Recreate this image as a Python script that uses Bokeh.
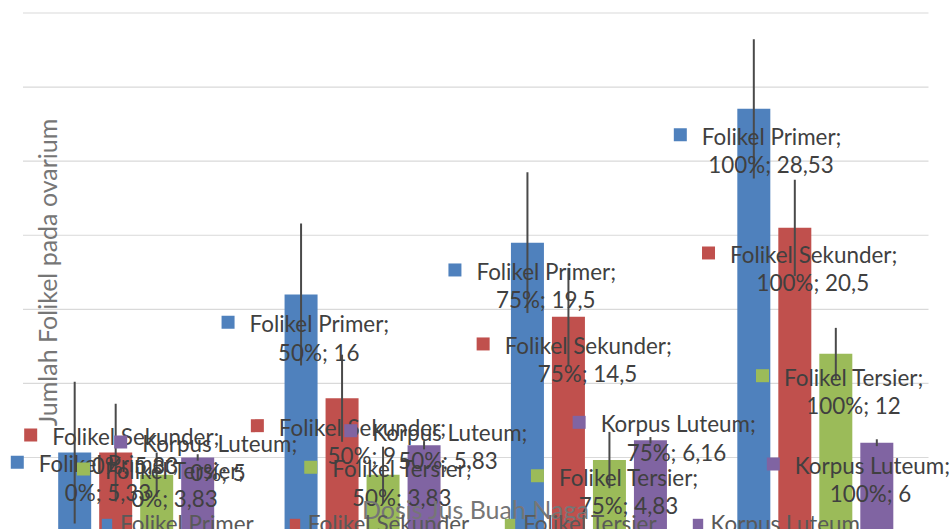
import math
from bokeh.plotting import figure
from bokeh.models import Range1d, ColumnDataSource, Legend, LegendItem, Grid
from bokeh.embed import file_html
from bokeh.resources import INLINE
from bokeh.core.properties import value

# ---------------- data ----------------
categories = ["0%", "50%", "75%", "100%"]
series_names = ["Folikel Primer", "Folikel Sekunder", "Folikel Tersier", "Korpus Luteum"]
folikel_primer = [5.33, 16, 19.5, 28.53]
folikel_sekunder = [5.33, 9, 14.5, 20.5]
folikel_tersier = [3.83, 3.83, 4.83, 12]
korpus_luteum = [5, 5.83, 6.16, 6]
sd_primer = [4.78, 4.79, 4.75, 4.7]
sd_sekunder = [3.3, 2.94, 3.3, 3.25]
sd_tersier = [1.5, 1.9, 1.9, 1.75]
sd_luteum = [0.22, 0.28, 0.22, 0.23]
y_ticks = [5, 10, 15, 20, 25, 30, 35]
x_title = "Dosis Jus Buah Naga"
y_title = "Jumlah Folikel pada ovarium"

# ---------------- style ----------------
colors = ["#4F81BD", "#C0504D", "#9BBB59", "#8064A2"]
FONT = "Lato"
LABEL_SIZE = "22.4px"
TITLE_SIZE = "25px"
# data-label placement (pixel offsets of first text line from bar centre / bar top)
lab_dx = [[-35.9, -51.5, -51.0, -52.0],
          [-63.5, -63.2, -63.8, -64.8],
          [-51.7, -50.8, -50.5, -51.8],
          [-55.5, -51.8, -49.8, -82.0]]
lab_dy = [[11.2, 29.3, 28.8, 27.3],
          [-16.1, 28.9, 28.7, 26.6],
          [-4.4, -6.1, 17.2, 23.4],
          [-14.0, -13.0, -16.5, 22.8]]
line1_w = [138.5, 165.7, 139.0, 151.6]
LINE_GAP = 28.5

W, H = 950, 529
ORIGIN = 0.0
AREA_L, AREA_R = 22.5, 928.0
AREA_TOP, AREA_ZERO = 12.5, 531.1
Y_MAX = 35
px_x = (AREA_R - AREA_L) / len(categories)
px_y = (AREA_ZERO - AREA_TOP) / Y_MAX
x_start = -(AREA_L - ORIGIN) / px_x
x_end = x_start + W / px_x
y_start = (AREA_ZERO - (ORIGIN + H)) / px_y
y_end = (AREA_ZERO - ORIGIN) / px_y


def sx_to_x(px):
    return (px - AREA_L) / px_x


def sy_to_y(py):
    return (AREA_ZERO - py) / px_y


def fmt(v):
    return f"{v:g}".replace(".", ",")


p = figure(width=W, height=H, x_range=Range1d(x_start, x_end), y_range=Range1d(y_start, y_end),
           output_backend="svg", toolbar_location=None, x_axis_location=None, y_axis_location=None,
           min_border=0, outline_line_color=None)
p.background_fill_color = "white"
p.border_fill_color = "white"
for g in p.select(type=Grid):
    g.visible = False

n = len(categories)
p.segment(x0=[0] * len(y_ticks), x1=[n] * len(y_ticks), y0=y_ticks, y1=y_ticks,
          line_color="#d9d9d9", line_width=1.2)

all_vals = [folikel_primer, folikel_sekunder, folikel_tersier, korpus_luteum]
all_sd = [sd_primer, sd_sekunder, sd_tersier, sd_luteum]
step = 41.0 / px_x
bar_w = 33.0 / px_x
offsets = [(k - 1.5) * step for k in range(4)]

renderers = []
for k in range(4):
    xs = [i + 0.5 + offsets[k] for i in range(n)]
    r = p.vbar(x=xs, top=all_vals[k], bottom=0, width=bar_w, fill_color=colors[k], line_color=None)
    renderers.append(r)

for k in range(4):
    xs = [i + 0.5 + offsets[k] for i in range(n)]
    vals = all_vals[k]
    sd = all_sd[k]
    p.segment(x0=xs, x1=xs, y0=[v - s for v, s in zip(vals, sd)], y1=[v + s for v, s in zip(vals, sd)],
              line_color="#4a4a4a", line_width=2)

for k in range(4):
    xs = [i + 0.5 + offsets[k] for i in range(n)]
    vals = all_vals[k]
    src = ColumnDataSource(dict(
        x=xs, y=vals,
        t1=[series_names[k] + ";"] * n,
        t2=[f"{c}; {fmt(v)}" for c, v in zip(categories, vals)],
        dx1=lab_dx[k],
        dy1=lab_dy[k],
        dx2=[d + line1_w[k] / 2 for d in lab_dx[k]],
        dy2=[d + LINE_GAP for d in lab_dy[k]],
        mx=[x + (d - 21.5) / px_x for x, d in zip(xs, lab_dx[k])],
        my=[v - (d - 1.5) / px_y for v, d in zip(vals, lab_dy[k])],
    ))
    p.rect(x="mx", y="my", width=13, height=13, width_units="screen", height_units="screen",
           source=src, fill_color=colors[k], line_color=None)
    p.text(x="x", y="y", text="t1", x_offset="dx1", y_offset="dy1", source=src,
           text_font=value(FONT), text_font_size=LABEL_SIZE, text_color="#404040",
           text_align="left", text_baseline="middle")
    p.text(x="x", y="y", text="t2", x_offset="dx2", y_offset="dy2", source=src,
           text_font=value(FONT), text_font_size=LABEL_SIZE, text_color="#404040",
           text_align="center", text_baseline="middle")

p.text(x=[sx_to_x(46)], y=[sy_to_y(272)], text=[y_title], angle=math.pi / 2,
       text_font=value(FONT), text_font_size=TITLE_SIZE, text_color="#767676",
       text_align="center", text_baseline="middle")
p.text(x=[n / 2], y=[sy_to_y(508)], text=[x_title],
       text_font=value(FONT), text_font_size=TITLE_SIZE, text_color="#767676",
       text_align="center", text_baseline="middle")

legend = Legend(items=[LegendItem(label=series_names[k], renderers=[renderers[k]]) for k in range(4)],
                orientation="horizontal", location=(100, -8), padding=0, margin=0, spacing=34,
                glyph_width=13, glyph_height=13, label_standoff=7,
                label_text_font=FONT, label_text_font_size=LABEL_SIZE, label_text_color="#595959",
                background_fill_alpha=0, border_line_alpha=0)
p.add_layout(legend, "center")

open("out.html", "w").write(file_html(p, INLINE))
